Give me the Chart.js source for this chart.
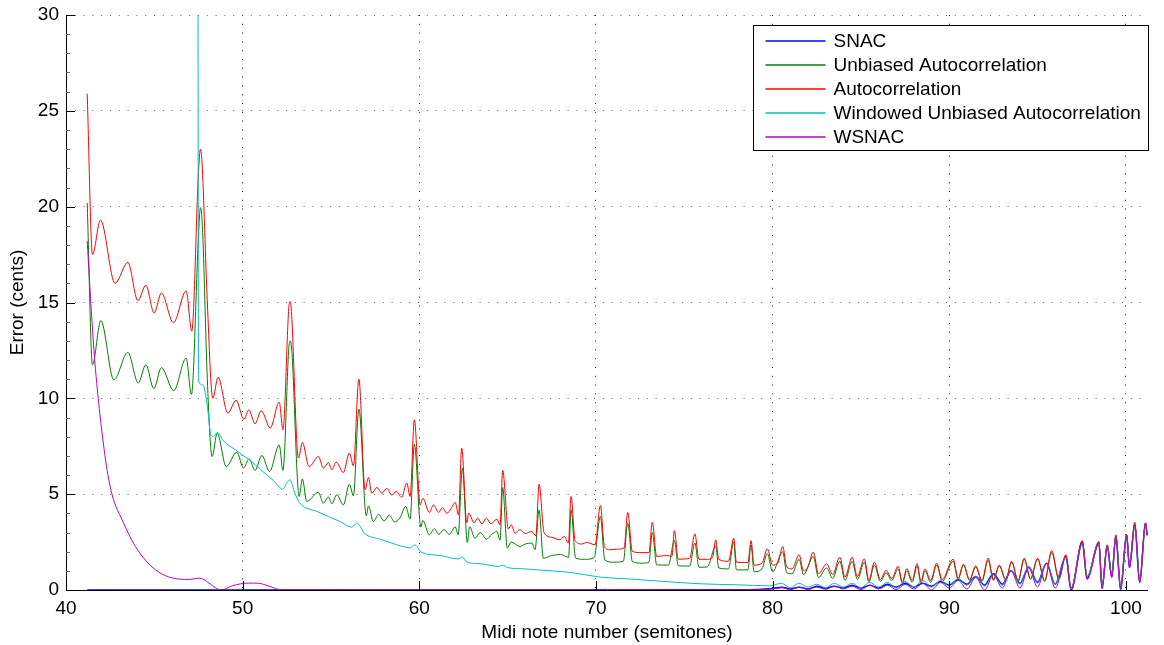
<!DOCTYPE html>
<html>
<head>
<meta charset="utf-8">
<title>Pitch error vs midi note</title>
<script src="https://cdn.jsdelivr.net/npm/chart.js@4.4.1/dist/chart.umd.min.js"></script>
<style>
  html, body { margin: 0; padding: 0; background: #fff; }
  #wrap { width: 1164px; height: 645px; }
</style>
</head>
<body>
<div id="wrap"><canvas id="errChart" width="1164" height="645"></canvas></div>
<script>
// axis ticks
const xTicks = [40, 50, 60, 70, 80, 90, 100];
const yTicks = [0, 5, 10, 15, 20, 25, 30];
const xMin = 40, xMax = 101.25;

const seriesNames = ['SNAC', 'Unbiased Autocorrelation', 'Autocorrelation',
  'Windowed Unbiased Autocorrelation', 'WSNAC'];

// [midi note, error in cents]
const snacPts = [[41.2,0],[50,0],[60,0],[70,0],[78,0.01],[80,0.08],[80.5,0.15],[81,0.05],
  [81.5,0.15],[82,0.05],[82.5,0.2],[83,0.08],[83.5,0.2],[84,0.1],[84.5,0.25],[85,0.1],[85.5,0.25],
  [86,0.1],[86.5,0.3],[87,0.15],[87.5,0.35],[88,0.15],[88.5,0.35],[89,0.2],[89.5,0.45],[90,0.25],
  [90.5,0.55],[91,0.3],[91.5,0.7],[92,0.25],[92.5,0.85],[93,0.3],[93.5,1.0],[94,0.35],[94.5,1.2],
  [95,0.4],[95.5,1.4],[96,0.3],[96.6,1.75],[96.9,0.0],[97.53,2.5],[97.8,0.6],[98.47,2.45],[98.65,0.1],
  [98.94,2.3],[99.2,0.7],[99.43,2.8],[99.7,0.05],[100.04,2.85],[100.2,1.2],[100.5,3.4],[100.78,0.4],
  [101.11,3.45],[101.2,2.85]];

const unbiasedPts = [[41.2,20.2],[41.5,11.75],[41.97,14.06],[42.71,10.96],[43.5,12.4],[44.09,10.8],
  [44.52,11.75],[44.97,10.5],[45.4,11.6],[46.1,10.4],[46.8,12.1],[47.1,10.2],[47.5,18.5],[47.61,19.95],
  [47.72,19.0],[48.0,11.0],[48.27,6.96],[48.56,8.18],[49.07,6.44],[49.67,7.19],[50.05,6.36],[50.37,6.84],
  [50.7,6.24],[51.09,7.02],[51.52,6.18],[52.07,7.57],[52.28,6.24],[52.62,12.7],[52.69,13.0],[52.78,12.5],
  [53.2,4.88],[53.38,5.79],[53.63,4.62],[54.29,5.1],[54.57,4.53],[54.86,4.85],[55.05,4.5],[55.33,4.97],
  [55.7,4.44],[56.04,5.52],[56.27,4.91],[56.58,9.44],[57.0,3.87],[57.12,4.39],[57.4,3.57],[57.7,3.95],
  [58.0,3.6],[58.3,3.9],[58.6,3.55],[58.9,3.75],[59.23,4.36],[59.48,3.7],[59.72,7.61],[60.09,3.28],
  [60.2,3.63],[60.57,2.88],[60.85,3.2],[61.1,2.9],[61.4,3.15],[61.7,2.9],[62.03,3.3],[62.2,2.88],
  [62.44,6.36],[62.72,2.48],[62.85,3.3],[63.15,2.7],[63.45,3.0],[63.8,2.65],[64.1,2.9],[64.4,3.05],
  [64.57,2.6],[64.72,5.35],[64.98,2.19],[65.2,2.5],[65.7,2.27],[66.0,2.4],[66.37,2.45],[66.55,2.1],
  [66.78,4.18],[67.02,1.66],[67.5,1.8],[68.0,1.85],[68.45,1.7],[68.59,4.18],[68.85,1.66],[69.4,1.6],
  [69.9,1.7],[70.25,3.83],[70.5,1.57],[71.0,1.45],[71.55,1.5],[71.8,3.49],[72.06,1.49],[72.6,1.4],
  [73.0,1.45],[73.19,3.0],[73.44,1.31],[74.1,1.3],[74.44,2.58],[74.66,1.26],[75.3,1.25],[75.6,2.45],
  [75.83,1.19],[76.3,1.2],[76.78,2.3],[76.95,1.15],[77.5,1.1],[77.8,2.5],[77.95,1.05],[78.6,1.05],
  [78.78,2.35],[78.95,0.95],[79.4,1.1],[79.7,1.9],[80.0,0.95],[80.57,2.0],[80.8,0.9],[81.1,0.85],
  [81.5,1.6],[81.75,0.8],[82.3,1.75],[82.6,0.65],[83.06,1.15],[83.4,0.6],[83.8,1.5],[84.1,0.5],
  [84.5,1.5],[84.8,0.55],[85.19,1.45],[85.45,0.4],[85.76,1.3],[86.1,0.45],[86.42,0.9],[86.75,0.5],
  [87.1,1.1],[87.35,0.35],[87.59,1.0],[87.9,0.4],[88.18,1.25],[88.4,0.35],[88.62,1.0],[88.95,0.4],
  [89.29,1.3],[89.6,0.45],[90.22,1.5],[90.5,0.55],[90.8,1.3],[91.15,0.5],[91.5,1.2],[91.85,0.45],
  [92.2,1.55],[92.5,0.5],[92.83,1.25],[93.2,0.5],[93.53,1.45],[93.9,0.45],[94.24,1.6],[94.6,0.55],
  [95.0,1.6],[95.4,0.45],[95.8,1.95],[96.2,0.55],[96.6,1.8],[96.9,0.1],[97.53,2.5],[97.8,0.7],
  [98.47,2.45],[98.65,0.2],[98.94,2.3],[99.2,0.8],[99.43,2.8],[99.7,0.17],[100.04,2.9],[100.2,1.3],
  [100.5,3.4],[100.78,0.5],[101.11,3.5],[101.2,2.9]];

const autoPts = [[41.2,25.9],[41.5,17.5],[41.95,19.3],[42.78,16.0],[43.5,17.1],[44.07,15.1],[44.52,15.9],
  [44.99,14.45],[45.4,15.5],[46.08,13.95],[46.8,15.6],[47.12,13.5],[47.5,21.8],[47.61,23.0],[47.7,22.3],
  [48.0,15.0],[48.31,10.0],[48.61,11.1],[49.16,9.23],[49.63,9.9],[50.07,8.9],[50.35,9.4],[50.7,8.67],
  [51.05,9.36],[51.56,8.45],[52.07,9.8],[52.28,8.36],[52.62,14.8],[52.69,15.05],[52.75,14.7],[53.16,6.88],
  [53.38,7.7],[53.76,6.44],[54.29,6.96],[54.57,6.36],[54.86,6.65],[55.05,6.27],[55.29,6.67],[55.7,6.13],
  [56.04,7.14],[56.27,6.48],[56.58,11.0],[56.93,5.23],[57.12,5.87],[57.31,5.05],[57.6,5.35],[57.88,5.05],
  [58.16,5.3],[58.44,4.95],[58.7,5.15],[59.0,4.83],[59.29,5.58],[59.48,4.88],[59.72,8.88],[60.05,4.44],
  [60.2,4.79],[60.57,4.04],[60.8,4.44],[61.1,4.05],[61.3,4.3],[61.56,4.0],[61.8,4.25],[62.03,4.57],
  [62.22,3.92],[62.4,7.4],[62.69,3.52],[62.8,4.01],[63.1,3.5],[63.3,3.75],[63.55,3.45],[63.8,3.75],
  [64.05,3.45],[64.39,3.7],[64.57,3.4],[64.72,6.24],[65.04,3.18],[65.2,3.4],[65.42,2.97],[65.7,3.15],
  [66.0,2.95],[66.37,3.05],[66.6,2.83],[66.78,5.52],[67.06,3.0],[67.5,2.75],[67.97,2.62],[68.2,2.8],
  [68.44,2.45],[68.59,4.88],[68.82,2.58],[69.2,2.4],[69.48,2.48],[69.95,2.36],[70.25,4.41],[70.48,2.27],
  [70.8,2.1],[71.18,2.13],[71.59,2.19],[71.8,4.04],[72.06,2.01],[72.6,1.95],[73.0,1.95],[73.19,3.54],
  [73.44,1.75],[74.0,1.8],[74.3,1.75],[74.44,3.1],[74.66,1.61],[75.3,1.65],[75.6,2.93],[75.83,1.6],
  [76.3,1.6],[76.6,1.7],[76.78,2.62],[76.95,1.6],[77.5,1.5],[77.8,2.7],[77.95,1.45],[78.6,1.43],
  [78.78,2.57],[78.95,1.3],[79.4,1.4],[79.7,2.15],[80.0,1.3],[80.3,1.4],[80.57,2.27],[80.8,1.2],
  [81.1,1.1],[81.5,1.84],[81.75,1.0],[82.0,1.2],[82.3,1.98],[82.6,0.85],[83.06,1.37],[83.4,0.8],
  [83.8,1.71],[84.1,0.67],[84.5,1.71],[84.8,0.7],[85.19,1.63],[85.45,0.5],[85.76,1.45],[86.1,0.55],
  [86.42,1.02],[86.75,0.6],[87.1,1.24],[87.35,0.4],[87.59,1.12],[87.9,0.5],[88.18,1.38],[88.4,0.45],
  [88.62,1.1],[88.95,0.5],[89.29,1.4],[89.6,0.55],[90.22,1.61],[90.5,0.6],[90.8,1.35],[91.15,0.55],
  [91.5,1.26],[91.85,0.5],[92.2,1.66],[92.5,0.55],[92.83,1.3],[93.2,0.55],[93.53,1.5],[93.9,0.5],
  [94.24,1.66],[94.6,0.6],[95.0,1.66],[95.4,0.5],[95.8,2.06],[96.2,0.6],[96.6,1.84],[96.9,0.1],
  [97.53,2.58],[97.8,0.7],[98.47,2.53],[98.65,0.2],[98.94,2.36],[99.2,0.8],[99.43,2.88],[99.7,0.17],
  [100.04,2.88],[100.2,1.3],[100.5,3.54],[100.78,0.5],[101.11,3.49],[101.2,2.88]];

const windowedPts = [[47.47,34],[47.5,10.9],[47.75,10.7],[48.0,9.6],[48.18,8.18],[48.35,8.0],[48.56,8.22],
  [48.9,7.8],[49.3,7.49],[49.6,7.31],[50.05,7.0],[50.42,6.76],[51.0,6.3],[51.74,5.71],[52.28,5.26],
  [52.5,5.6],[52.69,5.75],[52.9,5.2],[53.2,4.58],[54.2,4.1],[55.52,3.57],[56.18,3.28],[56.46,3.49],
  [56.93,2.93],[57.8,2.65],[58.73,2.36],[59.5,2.2],[59.72,2.36],[60.14,1.96],[61.2,1.8],[62.2,1.62],
  [62.44,1.72],[62.7,1.45],[63.44,1.37],[64.5,1.23],[64.72,1.3],[65.0,1.17],[66.0,1.1],[66.7,1.05],
  [68.6,0.91],[70.25,0.67],[72.0,0.57],[74.4,0.41],[76.0,0.32],[78.0,0.27],[79.85,0.22],[80.5,0.35],
  [81,0.12],[81.5,0.35],[82,0.15],[82.5,0.3],[83,0.12],[83.5,0.35],[84,0.15],[84.5,0.35],[85,0.12],
  [85.5,0.4],[86,0.15],[86.5,0.4],[87,0.1],[87.5,0.45],[88,0.15],[88.5,0.5],[89,0.15],[89.5,0.5],
  [90,0.2],[90.5,0.6],[91,0.25],[91.5,0.7],[92,0.2],[92.5,0.8],[93,0.25],[93.5,1.0],[94,0.3],[94.5,1.2],
  [95,0.35],[95.5,1.4],[96,0.3],[96.6,1.7],[96.9,0.05],[97.53,2.4],[97.8,0.7],[98.47,2.4],[98.65,0.2],
  [98.94,2.25],[99.2,0.8],[99.43,2.75],[99.7,0.15],[100.04,2.8],[100.2,1.3],[100.5,3.3],[100.78,0.5],
  [101.11,3.45],[101.2,2.9]];

const wsnacPts = [[41.2,18.2],[41.45,14.3],[41.67,11.5],[42.24,6.79],[42.61,4.97],[43.18,3.66],[43.93,2.27],
  [45.07,1.05],[46.39,0.57],[47.0,0.55],[47.52,0.62],[47.8,0.55],[48.09,0.36],[48.8,0.0],[49.41,0.22],
  [50.35,0.36],[50.9,0.35],[51.5,0.2],[52.2,0.01],[60,0],[70,0],[78,0.01],[80,0.05],[80.5,0.12],
  [81,0.02],[81.5,0.15],[82,0.03],[82.5,0.15],[83,0.04],[83.5,0.2],[84,0.05],[84.5,0.2],[85,0.02],
  [85.5,0.25],[86,0.05],[86.5,0.25],[87,0.02],[87.5,0.3],[88,0.05],[88.5,0.35],[89,0.0],[89.5,0.4],
  [90,0.1],[90.5,0.5],[91,0.05],[91.5,0.65],[92,0.0],[92.5,0.8],[93,0.1],[93.5,1.0],[94,0.1],[94.5,1.15],
  [95,0.15],[95.5,1.4],[96,0.1],[96.6,1.7],[96.9,0.0],[97.53,2.45],[97.8,0.55],[98.47,2.4],[98.65,0.05],
  [98.94,2.25],[99.2,0.65],[99.43,2.75],[99.7,0.0],[100.04,2.85],[100.2,1.15],[100.5,3.35],[100.78,0.4],
  [101.11,3.5],[101.2,2.85]];

const allPts = [snacPts, unbiasedPts, autoPts, windowedPts, wsnacPts];
const lineColors = ['#0000ff', '#008000', '#ff0000', '#00bfbf', '#bf00bf'];

Chart.defaults.font.family = '"Liberation Sans", Arial, sans-serif';
Chart.defaults.font.size = 19;
Chart.defaults.color = '#000';

// solid left/bottom axes under the data, inward ticks + boxed legend on top
const matlabBits = {
  id: 'matlabBits',
  beforeDatasetsDraw(chart) {
    const ctx = chart.ctx;
    const a = chart.chartArea;
    ctx.save();
    ctx.setLineDash([]);
    ctx.strokeStyle = '#000';
    ctx.lineWidth = 1;
    ctx.beginPath();
    ctx.moveTo(Math.round(a.left) + 0.5, a.top);
    ctx.lineTo(Math.round(a.left) + 0.5, Math.round(a.bottom) + 0.5);
    ctx.lineTo(a.right, Math.round(a.bottom) + 0.5);
    ctx.stroke();
    ctx.restore();
  },
  afterDraw(chart) {
    const ctx = chart.ctx;
    const a = chart.chartArea;
    const xs = chart.scales.x, ys = chart.scales.y;
    ctx.save();
    ctx.setLineDash([]);
    ctx.strokeStyle = '#000';
    ctx.lineWidth = 1;
    ctx.beginPath();
    xTicks.forEach(v => {
      const px = Math.round(xs.getPixelForValue(v)) + 0.5;
      ctx.moveTo(px, a.bottom); ctx.lineTo(px, a.bottom - 9);
    });
    yTicks.forEach(v => {
      const py = Math.round(ys.getPixelForValue(v)) + 0.5;
      ctx.moveTo(a.left, py); ctx.lineTo(a.left + 9, py);
    });
    ctx.stroke();
    // minor ticks on y
    ctx.strokeStyle = '#666';
    ctx.beginPath();
    for (let i = 0; i < yTicks.length - 1; i++) {
      const step = (yTicks[i + 1] - yTicks[i]) / 5;
      for (let k = 1; k < 5; k++) {
        const py = Math.round(ys.getPixelForValue(yTicks[i] + k * step)) + 0.5;
        ctx.moveTo(a.left, py); ctx.lineTo(a.left + 4, py);
      }
    }
    ctx.stroke();

    // legend box
    const boxW = 395, boxH = 125;
    const bx = Math.round(a.right - boxW) + 0.5, by = Math.round(a.top + 10) + 0.5;
    ctx.fillStyle = '#fff';
    ctx.fillRect(bx, by, boxW, boxH);
    ctx.strokeStyle = '#000';
    ctx.strokeRect(bx, by, boxW, boxH);
    ctx.font = '19px "Liberation Sans", Arial, sans-serif';
    ctx.textBaseline = 'middle';
    ctx.textAlign = 'left';
    seriesNames.forEach((name, i) => {
      const ry = Math.round(by + 15 + i * 24);
      ctx.strokeStyle = lineColors[i];
      ctx.lineWidth = 1.5;
      ctx.beginPath();
      ctx.moveTo(bx + 12, ry); ctx.lineTo(bx + 72, ry);
      ctx.stroke();
      ctx.fillStyle = '#000';
      ctx.fillText(name, bx + 80, ry + 1);
    });
    ctx.restore();
  }
};

const dotted = { display: false, dash: [1, 7.8] };

const ctx = document.getElementById('errChart').getContext('2d');
const chart = new Chart(ctx, {
  type: 'line',
  data: {
    datasets: allPts.map((pts, i) => ({
      label: seriesNames[i],
      data: pts.map(p => ({ x: p[0], y: p[1] })),
      borderColor: lineColors[i],
      borderWidth: i === 0 ? 1.5 : 1,
      pointRadius: 0,
      cubicInterpolationMode: 'monotone',
      fill: false,
      order: allPts.length - i
    }))
  },
  options: {
    responsive: false,
    animation: false,
    parsing: false,
    layout: { padding: { top: 15, right: 16, left: 0, bottom: 0 } },
    plugins: { legend: { display: false }, tooltip: { enabled: false } },
    scales: {
      x: {
        type: 'linear',
        min: xMin,
        max: xMax,
        afterBuildTicks: s => { s.ticks = xTicks.map(v => ({ value: v })); },
        afterFit: s => { s.height = 55; s.paddingLeft = 0; s.paddingRight = 0; },
        ticks: { padding: 7, maxRotation: 0 },
        grid: { color: '#222', lineWidth: 1, drawTicks: false },
        border: dotted,
        title: { display: true, text: 'Midi note number (semitones)', padding: { top: 0, bottom: 1 } }
      },
      y: {
        min: 0,
        max: 30,
        afterBuildTicks: s => { s.ticks = yTicks.map(v => ({ value: v })); },
        afterFit: s => { s.width = 66; s.paddingTop = 0; s.paddingBottom = 0; },
        ticks: { padding: 7 },
        grid: { color: '#666', lineWidth: 1, drawTicks: false },
        border: dotted,
        title: { display: true, text: 'Error (cents)', padding: { top: 6, bottom: 0 } }
      }
    }
  },
  plugins: [matlabBits]
});
</script>
</body>
</html>
